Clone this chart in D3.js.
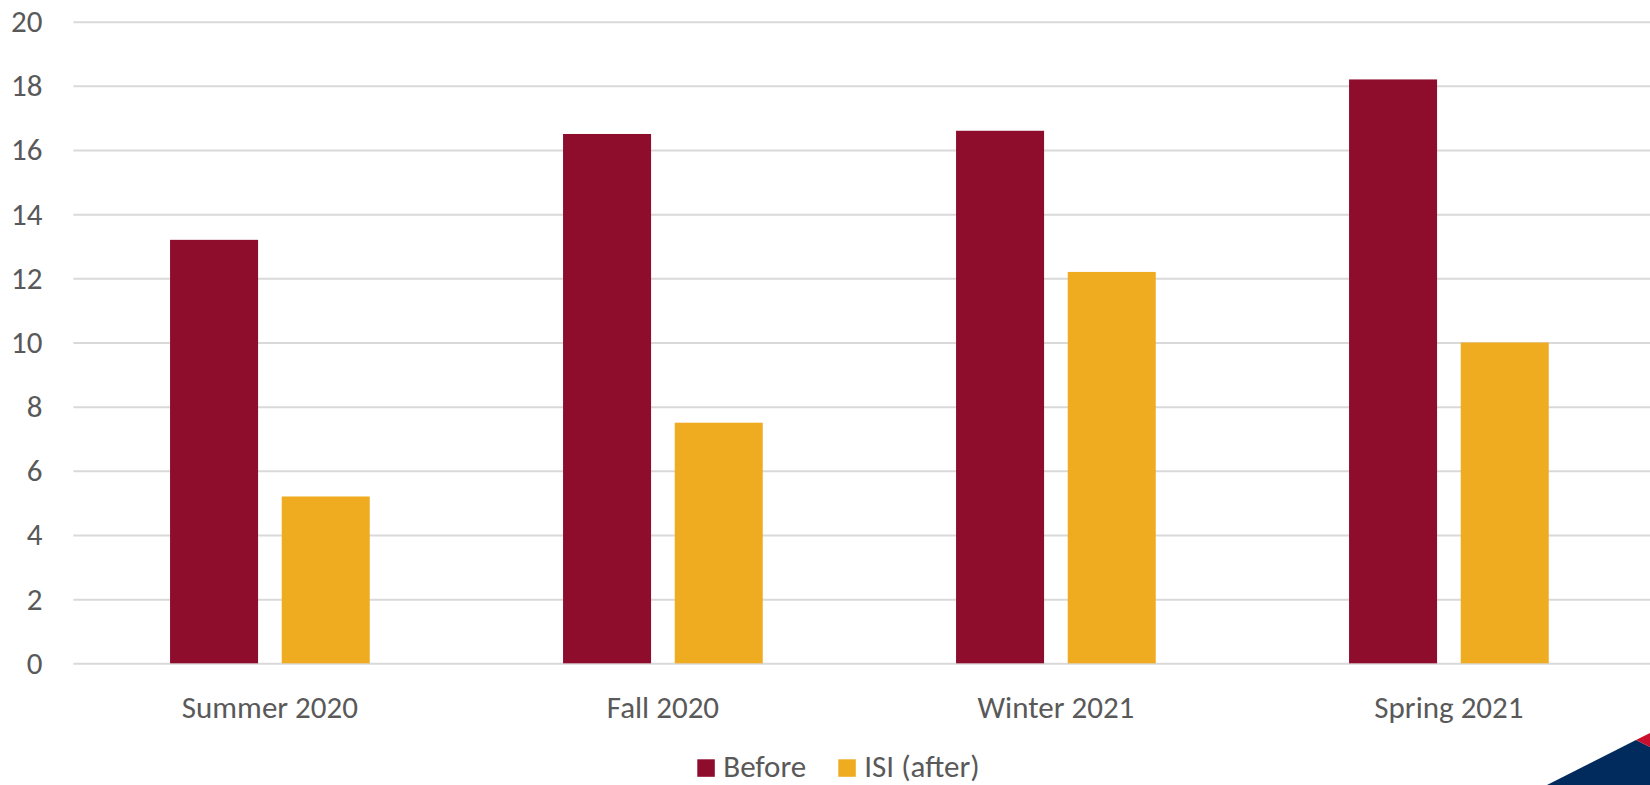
<!DOCTYPE html>
<html>
<head>
<meta charset="utf-8">
<script src="https://cdn.jsdelivr.net/npm/d3@7"></script>
<style>
  html, body { margin: 0; padding: 0; background: #ffffff; }
  svg { display: block; }
  text { font-family: Carlito, Calibri, Lato, "Open Sans", sans-serif; fill: #595959; }
</style>
</head>
<body>
<svg id="chart" width="1650" height="785"></svg>
<script>
const categories = ["Summer 2020", "Fall 2020", "Winter 2021", "Spring 2021"];
const seriesNames = ["Before", "ISI (after)"];
const beforeValues = [13.2, 16.5, 16.6, 18.2];
const afterValues = [5.2, 7.5, 12.2, 10.0];
const yTicks = [0, 2, 4, 6, 8, 10, 12, 14, 16, 18, 20];
const colors = ["#8E0C2C", "#EFAC21"];

const W = 1650, H = 785;
const svg = d3.select("#chart");

const plotLeft = 73.4, plotRight = 1645.4;
const y = d3.scaleLinear().domain([0, 20]).range([663.3, 21.7]);
const x0 = d3.scaleBand().domain(categories).range([plotLeft, plotRight]).padding(0);
const x1 = d3.scaleBand().domain(seriesNames)
  .range([(x0.step() - 199.7) / 2, (x0.step() + 199.7) / 2])
  .paddingInner(0.212).paddingOuter(0);

const FS = 31;
const FF = "Carlito, Calibri, Lato, sans-serif";

// gridlines
const yAxis = d3.axisLeft(y).tickValues(yTicks).tickSize(-(W - plotLeft)).tickPadding(31).tickFormat(d3.format("d"));
const gY = svg.append("g").attr("transform", `translate(${plotLeft},0)`).call(yAxis);
gY.select(".domain").remove();
gY.selectAll(".tick line").attr("stroke", "#d9d9d9").attr("stroke-width", 2);
gY.selectAll(".tick text").attr("font-size", FS).attr("fill", "#595959").attr("font-family", FF);

// bars
const data = categories.map((c, i) => ({ cat: c, vals: [beforeValues[i], afterValues[i]] }));
const groups = svg.append("g").selectAll("g").data(data).join("g")
  .attr("transform", d => `translate(${x0(d.cat)},0)`);
groups.selectAll("rect").data(d => d.vals.map((v, j) => ({ key: seriesNames[j], v, j })))
  .join("rect")
  .attr("x", d => x1(d.key))
  .attr("width", x1.bandwidth())
  .attr("y", d => y(d.v))
  .attr("height", d => y(0) - y(d.v))
  .attr("fill", d => colors[d.j]);

// x axis labels
const xAxis = d3.axisBottom(x0).tickSize(0).tickPadding(33);
const gX = svg.append("g").attr("transform", `translate(0,${y(0)})`).call(xAxis);
gX.select(".domain").remove();
gX.selectAll(".tick text").attr("font-size", FS).attr("fill", "#595959").attr("font-family", FF);

// legend
const legendX = [697.3, 838.3];
const legend = svg.append("g");
seriesNames.forEach((name, i) => {
  const g = legend.append("g").attr("transform", `translate(${legendX[i]},759.3)`);
  g.append("rect").attr("width", 17.5).attr("height", 17.5).attr("fill", colors[i]);
  g.append("text").attr("x", 26).attr("y", 18).attr("font-size", FS).text(name);
});

// corner decoration
svg.append("polygon").attr("points", "1547,785 1636,740 1650,747 1650,785").attr("fill", "#002B5C");
svg.append("polygon").attr("points", "1636,740 1650,733 1650,747").attr("fill", "#C8102E");
</script>
</body>
</html>
